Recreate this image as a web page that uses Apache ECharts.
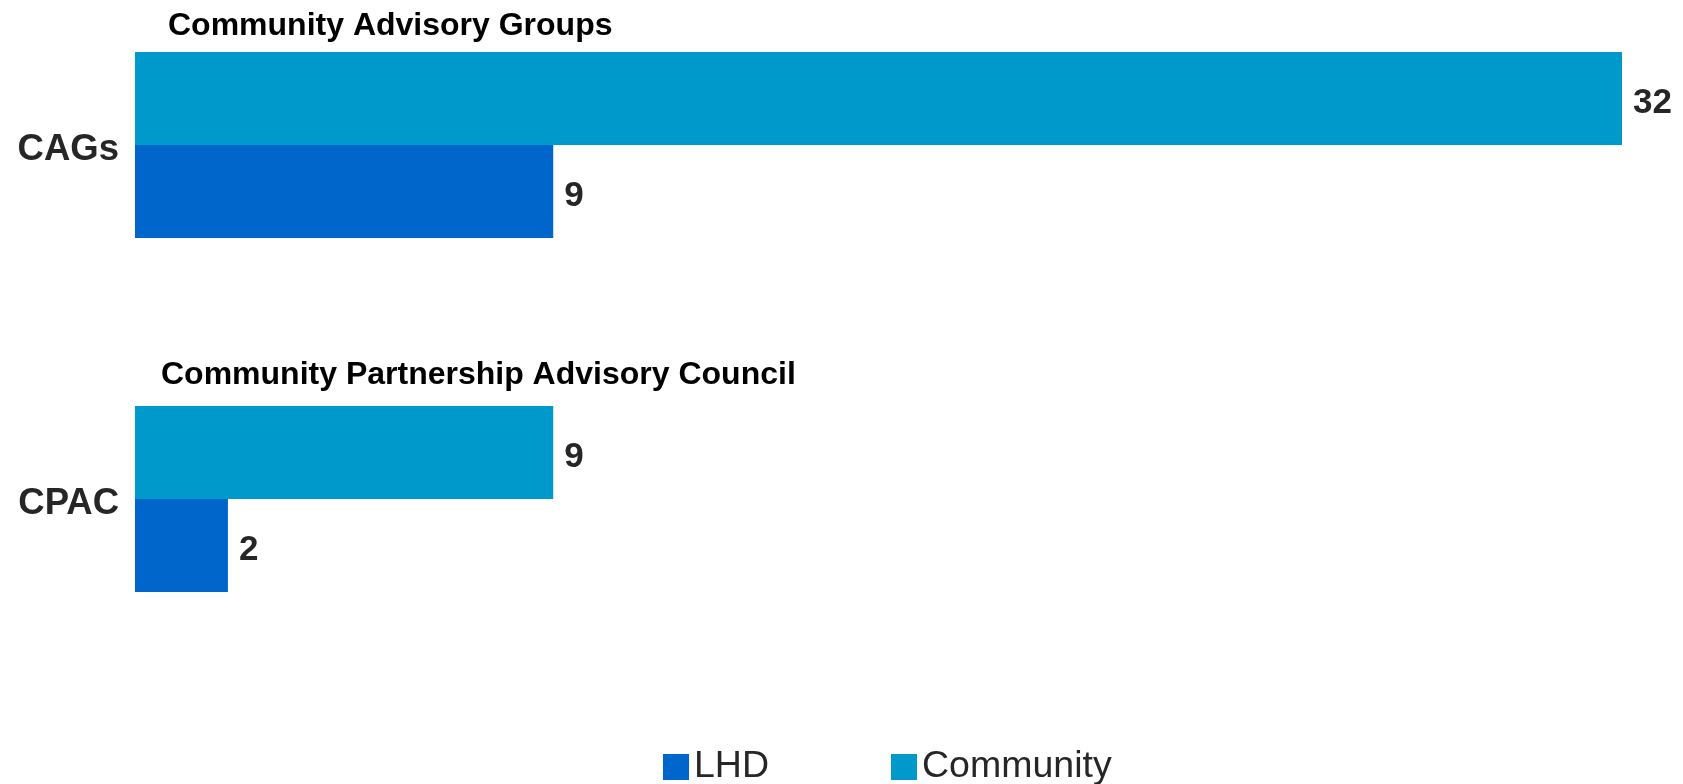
<!DOCTYPE html>
<html>
<head>
<meta charset="utf-8">
<script src="https://cdn.jsdelivr.net/npm/echarts@6/dist/echarts.min.js"></script>
<style>
html,body{margin:0;padding:0;background:#fff;}
#chart{width:1683px;height:784px;}
</style>
</head>
<body>
<div id="chart"></div>
<script>
const categories = ['CAGs', 'CPAC'];
const groupTitles = ['Community Advisory Groups', 'Community Partnership Advisory Council'];
const lhdValues = [9, 2];
const communityValues = [32, 9];
const seriesNames = ['LHD', 'Community'];

const chart = echarts.init(document.getElementById('chart'));
const FONT = 'Liberation Sans, Arial, sans-serif';
const labelStyle = {
  show: true, position: 'right', distance: 11, offset: [0, 5],
  fontFamily: FONT, fontWeight: 'bold', fontSize: 35, color: '#262626'
};
chart.setOption({
  animation: false,
  backgroundColor: '#ffffff',
  title: [
    { text: groupTitles[0], left: 168, top: 10, padding: 0,
      textStyle: { fontFamily: FONT, fontWeight: 'bold', fontSize: 32, color: '#000000' } },
    { text: groupTitles[1], left: 161, top: 359, padding: 0,
      textStyle: { fontFamily: FONT, fontWeight: 'bold', fontSize: 32, color: '#000000' } }
  ],
  legend: {
    data: seriesNames,
    left: 663, top: 748, padding: 0,
    icon: 'rect', itemWidth: 26, itemHeight: 26, itemGap: 122,
    textStyle: { fontFamily: FONT, fontSize: 37.5, color: '#262626' }
  },
  grid: { left: 135, right: 61, top: 145, height: 354, containLabel: false },
  xAxis: {
    type: 'value', min: 0, max: 'dataMax', show: false,
    splitLine: { show: false }
  },
  yAxis: {
    type: 'category', data: categories, inverse: true, boundaryGap: false,
    axisLine: { show: false }, axisTick: { show: false }, splitLine: { show: false },
    axisLabel: { margin: 16, verticalAlign: 'top', lineHeight: 9,
      fontFamily: FONT, fontWeight: 'bold', fontSize: 36.5, color: '#262626' }
  },
  series: [
    { name: 'Community', type: 'bar', data: communityValues, barWidth: 93, barGap: '0%',
      itemStyle: { color: '#0099CC' }, label: labelStyle },
    { name: 'LHD', type: 'bar', data: lhdValues, barWidth: 93, barGap: '0%',
      itemStyle: { color: '#0066CC' }, label: labelStyle }
  ]
});
</script>
</body>
</html>
